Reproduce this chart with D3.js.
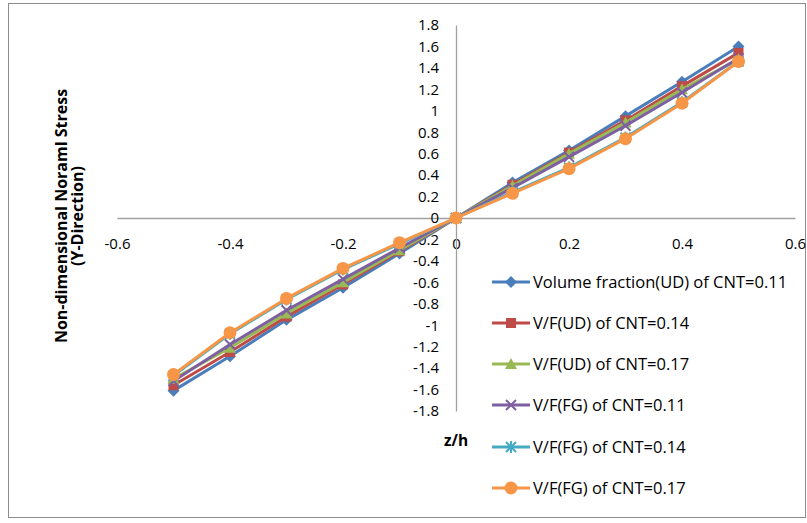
<!DOCTYPE html>
<html>
<head>
<meta charset="utf-8">
<script src="https://cdn.jsdelivr.net/npm/d3@7"></script>
<style>
  html, body { margin: 0; padding: 0; background: #fff; }
  svg { display: block; }
  text { font-family: "Open Sans", "Noto Sans", sans-serif; fill: #000; }
</style>
</head>
<body>
<svg id="chart" width="807" height="523"></svg>
<script>
// Through-thickness position z/h
const zh = [-0.5, -0.4, -0.3, -0.2, -0.1, 0, 0.1, 0.2, 0.3, 0.4, 0.5];

// Non-dimensional normal stress (Y-direction) per material case
const udCnt011 = [-1.61, -1.29, -0.95, -0.65, -0.33, 0, 0.33, 0.63, 0.95, 1.27, 1.60];
const udCnt014 = [-1.56, -1.25, -0.92, -0.62, -0.31, 0, 0.31, 0.61, 0.91, 1.23, 1.54];
const udCnt017 = [-1.50, -1.21, -0.89, -0.60, -0.30, 0, 0.30, 0.60, 0.89, 1.20, 1.48];
const fgCnt011 = [-1.52, -1.18, -0.86, -0.57, -0.28, 0, 0.28, 0.57, 0.86, 1.17, 1.49];
const fgCnt014 = [-1.47, -1.08, -0.76, -0.48, -0.24, 0, 0.24, 0.47, 0.75, 1.08, 1.46];
const fgCnt017 = [-1.46, -1.07, -0.75, -0.47, -0.23, 0, 0.23, 0.46, 0.74, 1.07, 1.46];

const seriesNames = [
  "Volume fraction(UD) of CNT=0.11",
  "V/F(UD) of CNT=0.14",
  "V/F(UD) of CNT=0.17",
  "V/F(FG) of CNT=0.11",
  "V/F(FG) of CNT=0.14",
  "V/F(FG) of CNT=0.17"
];
const seriesValues = [udCnt011, udCnt014, udCnt017, fgCnt011, fgCnt014, fgCnt017];
const seriesColors = ["#4A7EBB", "#BE4B48", "#98B954", "#7D60A0", "#46AAC5", "#F79646"];
const seriesMarkers = ["diamond", "square", "triangle", "cross", "asterisk", "circle"];

const xTicks = [-0.6, -0.4, -0.2, 0, 0.2, 0.4, 0.6];
const yTicks = [-1.8, -1.6, -1.4, -1.2, -1, -0.8, -0.6, -0.4, -0.2, 0, 0.2, 0.4, 0.6, 0.8, 1, 1.2, 1.4, 1.6, 1.8];

// Plain hyphen-minus labels, no trailing zeros
const numLabel = d => String(+(+d).toFixed(1));

const svg = d3.select("#chart");

// Outer chart frame
svg.append("rect")
  .attr("x", 8.5).attr("y", 3.5)
  .attr("width", 797).attr("height", 514)
  .attr("fill", "#fff").attr("stroke", "#8c8c8c").attr("stroke-width", 1);

const x = d3.scaleLinear().domain([-0.6, 0.6]).range([117, 795]);
const y = d3.scaleLinear().domain([-1.8, 1.8]).range([411, 25]);

// Horizontal axis through y = 0
const xAxis = d3.axisBottom(x).tickValues(xTicks).tickSize(0).tickPadding(20)
  .tickFormat(numLabel);
const gx = svg.append("g").attr("transform", `translate(0,${y(0)})`).call(xAxis);
gx.select(".domain").attr("stroke", "#a0a0a0").attr("stroke-width", 1.3);
gx.selectAll("text").attr("font-size", 15).attr("fill", "#000").attr("font-family", "Open Sans");

// Vertical axis through x = 0
const yAxis = d3.axisLeft(y).tickValues(yTicks).tickSize(0).tickPadding(17)
  .tickFormat(numLabel);
const gy = svg.append("g").attr("transform", `translate(${x(0)},0)`).call(yAxis);
gy.select(".domain").attr("stroke", "#a0a0a0").attr("stroke-width", 1.3);
gy.selectAll("text").attr("font-size", 15).attr("fill", "#000").attr("font-family", "Open Sans");

// Axis titles
const yTitle = svg.append("text")
  .attr("transform", "translate(67,216) rotate(-90)")
  .attr("text-anchor", "middle")
  .attr("font-size", 16).attr("font-weight", "bold");
yTitle.append("tspan").attr("x", 0).attr("dy", 0).text("Non-dimensional Noraml Stress");
yTitle.append("tspan").attr("x", 0).attr("dy", 16).text("(Y-Direction)");

svg.append("text")
  .attr("x", 456).attr("y", 446)
  .attr("text-anchor", "middle")
  .attr("font-size", 15.5).attr("font-weight", "bold")
  .text("z/h");

// Marker shapes
function drawMarker(g, type, color) {
  switch (type) {
    case "diamond":
      g.append("path").attr("d", "M0,-6L6,0L0,6L-6,0Z").attr("fill", color);
      break;
    case "square":
      g.append("rect").attr("x", -5).attr("y", -5).attr("width", 10).attr("height", 10).attr("fill", color);
      break;
    case "triangle":
      g.append("path").attr("d", "M0,-6L6,5L-6,5Z").attr("fill", color);
      break;
    case "cross":
      g.append("path").attr("d", "M-5,-5L5,5M-5,5L5,-5").attr("stroke", color).attr("stroke-width", 2).attr("fill", "none");
      break;
    case "asterisk":
      g.append("path").attr("d", "M-5,-5L5,5M-5,5L5,-5M0,-6L0,6").attr("stroke", color).attr("stroke-width", 2).attr("fill", "none");
      break;
    case "circle":
      g.append("circle").attr("r", 6.5).attr("fill", color);
      break;
  }
}

const line = d3.line().x((d, i) => x(zh[i])).y(d => y(d));

seriesValues.forEach((vals, s) => {
  const g = svg.append("g");
  g.append("path").datum(vals)
    .attr("d", line)
    .attr("fill", "none")
    .attr("stroke", seriesColors[s])
    .attr("stroke-width", 3)
    .attr("stroke-linejoin", "round");
  vals.forEach((v, i) => {
    const m = g.append("g").attr("transform", `translate(${x(zh[i])},${y(v)})`);
    drawMarker(m, seriesMarkers[s], seriesColors[s]);
  });
});

// Legend
const legend = svg.append("g");
const legendY = [282, 323, 364, 405, 447, 488];
seriesNames.forEach((name, s) => {
  const g = legend.append("g").attr("transform", `translate(492,${legendY[s]})`);
  g.append("line").attr("x1", 0).attr("x2", 38).attr("y1", 0).attr("y2", 0)
    .attr("stroke", seriesColors[s]).attr("stroke-width", 3);
  const m = g.append("g").attr("transform", "translate(19,0)");
  drawMarker(m, seriesMarkers[s], seriesColors[s]);
  g.append("text").attr("x", 41).attr("y", 0).attr("dy", "0.35em")
    .attr("font-size", 16.5).text(name);
});
</script>
</body>
</html>
